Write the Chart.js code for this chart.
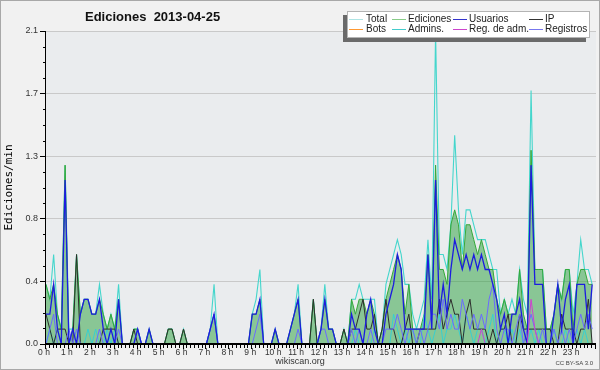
<!DOCTYPE html>
<html><head><meta charset="utf-8">
<script src="https://cdn.jsdelivr.net/npm/chart.js@4.4.0/dist/chart.umd.min.js"></script>
<style>
body{margin:0;background:#f1f1f1;}
#wrap{position:relative;width:600px;height:370px;overflow:hidden;font-family:"Liberation Sans",Arial,sans-serif;}
#c{position:absolute;left:0;top:0;}
.frame{position:absolute;left:0;top:0;width:600px;height:370px;box-sizing:border-box;border:1px solid #a8a8a8;pointer-events:none;}
#title{position:absolute;left:85px;top:10px;font-weight:bold;font-size:13px;line-height:13px;white-space:pre;color:#111;}
#legendBox{position:absolute;left:347px;top:11px;width:243px;height:27px;box-sizing:border-box;background:#fff;border:1px solid #b4b4b4;box-shadow:-4px 4px 0 #6a6a6a;}
.li{position:absolute;font-size:10px;line-height:10px;color:#222;white-space:nowrap;}
.ls{position:absolute;height:1px;width:14px;}
#site{position:absolute;left:0;width:600px;top:356px;text-align:center;font-size:9px;line-height:10px;color:#333;}
#lic{position:absolute;right:7px;top:360px;font-size:6px;line-height:6px;color:#444;}
</style></head>
<body>
<div id="wrap">
<canvas id="c" width="600" height="370"></canvas>
<div id="title">Ediciones  2013-04-25</div>
<div id="legendBox"></div>
<div id="legendItems"></div>
<div id="site">wikiscan.org</div>
<div id="lic">CC BY-SA 3.0</div>
<div class="frame"></div>
</div>
<script>
// ---- categories / tick labels ----
const timeSlots = [];
for (let h = 0; h <= 24; h++) { for (let m = 0; m < 60; m += 10) { if (h === 24 && m > 0) break; timeSlots.push(String(h).padStart(2,'0') + ':' + String(m).padStart(2,'0')); } }
const hourLabels = ['0 h','1 h','2 h','3 h','4 h','5 h','6 h','7 h','8 h','9 h','10 h','11 h','12 h','13 h','14 h','15 h','16 h','17 h','18 h','19 h','20 h','21 h','22 h','23 h'];
const yTickValues = [0, 0.42, 0.84, 1.26, 1.68, 2.1];
const yTickLabels = ['0.0','0.4','0.8','1.3','1.7','2.1'];

// ---- series (edits per minute, 10-minute bins) ----
const totalVals = [
0.4,0.3,0.6,0.2,0.1,1.2, 0.1,0.1,0.6,0.2,0.3,0.3, 0.2,0.2,0.4,0.2,0.1,0.2, 0.1,0.4,0,0,0,0.1,
0.1,0,0,0.1,0,0, 0,0,0.1,0.1,0,0, 0.1,0,0,0,0,0, 0,0.1,0.4,0,0,0,
0,0,0,0,0,0, 0.2,0.3,0.5,0,0,0, 0.1,0,0,0,0.1,0.2, 0.4,0,0,0,0.3,0,
0.1,0.4,0.1,0.1,0,0, 0.1,0,0.3,0.3,0.4,0.3, 0.3,0.3,0.3,0,0.1,0.4, 0.5,0.6,0.7,0.6,0.4,0.4,
0.2,0.1,0.2,0.3,0.7,0.3, 2.1,0.6,0.6,0.5,0.8,1.4, 0.9,0.6,0.9,0.9,0.8,0.7, 0.7,0.7,0.6,0.5,0.5,0.2,
0.3,0.2,0.3,0.2,0.5,0.3, 0.2,1.7,0.5,0.5,0.5,0.1, 0.1,0.2,0.4,0.3,0.5,0.5, 0.2,0.4,0.7,0.5,0.5,0.4];
const edicionesVals = [
0.4,0.3,0.4,0.2,0.1,1.2, 0,0.1,0.6,0.2,0.3,0.3, 0.2,0.2,0.3,0.2,0.1,0.2, 0.1,0.3,0,0,0,0.1,
0.1,0,0,0.1,0,0, 0,0,0.1,0.1,0,0, 0.1,0,0,0,0,0, 0,0.1,0.2,0,0,0,
0,0,0,0,0,0, 0.2,0.2,0.3,0,0,0, 0.1,0,0,0,0.1,0.2, 0.3,0,0,0,0.3,0,
0.1,0.3,0.1,0.1,0,0, 0.1,0,0.3,0.2,0.3,0.3, 0.2,0.3,0.2,0,0.1,0.3, 0.4,0.5,0.6,0.5,0.2,0.4,
0.1,0.1,0.1,0.2,0.6,0.2, 1.2,0.5,0.5,0.4,0.8,0.9, 0.8,0.5,0.8,0.8,0.7,0.6, 0.7,0.6,0.5,0.5,0.3,0.2,
0.3,0.2,0.2,0.2,0.5,0.2, 0.1,1.3,0.5,0.5,0.5,0.1, 0.1,0.2,0.4,0.3,0.5,0.5, 0.1,0.4,0.5,0.5,0.4,0.4];
const usuariosVals = [
0.2,0.2,0.4,0.1,0,1.1, 0,0.1,0,0.2,0.3,0.3, 0.2,0.2,0.3,0.1,0,0.1, 0,0.3,0,0,0,0,
0.1,0,0,0.1,0,0, 0,0,0,0,0,0, 0,0,0,0,0,0, 0,0.1,0.2,0,0,0,
0,0,0,0,0,0, 0.2,0.2,0.3,0,0,0, 0.1,0,0,0,0.1,0.2, 0.3,0,0,0,0,0,
0.1,0.3,0.1,0.1,0,0, 0,0,0.2,0.1,0.1,0, 0.2,0.3,0.1,0,0,0.2, 0.3,0.4,0.6,0.5,0.1,0.1,
0.1,0.1,0.1,0.1,0.6,0.1, 1.1,0.2,0.4,0.2,0.5,0.7, 0.6,0.5,0.6,0.5,0.6,0.5, 0.6,0.5,0.5,0.4,0.3,0.1,
0.2,0,0.2,0.2,0.3,0.1, 0,1.2,0.4,0.4,0.4,0, 0,0.2,0.4,0.1,0.3,0.4, 0,0.4,0.4,0.4,0.1,0.4];
const ipVals = [
0.2,0.1,0,0.1,0.1,0.1, 0,0,0.6,0,0,0, 0,0,0,0.1,0.1,0.1, 0.1,0,0,0,0,0.1,
0,0,0,0,0,0, 0,0,0.1,0.1,0,0, 0.1,0,0,0,0,0, 0,0,0,0,0,0,
0,0,0,0,0,0, 0,0,0,0,0,0, 0,0,0,0,0,0, 0,0,0,0,0.3,0,
0,0,0,0,0,0, 0.1,0,0.1,0.1,0.2,0.3, 0.1,0.1,0.2,0,0.1,0.3, 0.1,0.1,0,0,0.1,0.2,
0,0,0.1,0.1,0.1,0.1, 0.1,0.3,0.1,0.2,0.3,0.2, 0.2,0,0.2,0.3,0.1,0.1, 0.1,0.1,0,0.1,0,0.1,
0.1,0.2,0,0,0.2,0.1, 0.1,0.1,0.1,0.1,0.1,0.1, 0.1,0,0,0.2,0.1,0.1, 0.1,0,0.1,0.1,0.3,0];
const registrosVals = [
0,0.1,0.2,0,0,0, 0.1,0,0.1,0,0,0, 0,0,0.1,0,0,0, 0,0.1,0,0,0,0,
0.1,0,0,0,0,0, 0,0,0,0,0,0, 0,0,0,0,0,0, 0,0.1,0.2,0,0,0,
0,0,0,0,0,0, 0,0.1,0.2,0,0,0, 0,0,0,0,0,0, 0.1,0,0,0,0,0,
0.1,0.1,0,0,0,0, 0,0,0.1,0,0.1,0, 0,0.1,0,0,0,0.1, 0.1,0.1,0.2,0.1,0,0.1,
0.1,0,0.1,0,0.1,0.2, 0.2,0.1,0.3,0.1,0.2,0.1, 0.1,0.3,0.2,0.1,0.2,0.1, 0.2,0.1,0.3,0.4,0.1,0,
0.1,0.1,0,0.1,0.2,0, 0.1,0.2,0.1,0,0.1,0, 0,0.1,0,0.1,0,0.1, 0,0.1,0.2,0.1,0.2,0.1];
const adminsVals = [
0,0.1,0,0.1,0,0, 0,0,0,0,0,0.1, 0,0.1,0,0,0.1,0, 0.1,0,0,0,0,0,
0,0,0,0,0,0, 0,0,0,0,0,0, 0,0,0,0,0,0, 0,0,0,0,0,0,
0,0,0,0,0,0, 0,0,0,0,0,0, 0,0,0,0,0,0, 0,0,0,0,0,0,
0,0,0,0,0,0, 0,0,0,0.1,0,0, 0,0,0.1,0,0,0, 0,0.2,0.1,0,0.1,0,
0.1,0,0,0.2,0.1,0, 0.1,0.2,0,0.1,0.1,0.2, 0.1,0,0.2,0.1,0,0.1, 0.1,0,0.1,0.2,0,0.1,
0.1,0,0.1,0,0.1,0, 0,0.1,0,0.1,0,0, 0,0.1,0,0,0.1,0, 0,0.1,0,0.1,0,0];
const regAdmVals = [
0,0,0,0,0,0, 0,0,0,0,0,0, 0,0,0,0,0,0, 0,0,0,0,0,0,
0,0,0,0,0,0, 0,0,0,0,0,0, 0,0,0,0,0,0, 0,0,0,0,0,0,
0,0,0,0,0,0, 0,0,0,0,0,0, 0,0,0,0,0,0, 0,0,0,0,0,0,
0,0,0,0,0,0, 0,0,0,0,0,0, 0,0,0,0,0,0, 0,0,0,0,0,0,
0,0,0,0,0,0, 0,0,0,0,0,0, 0,0,0,0,0,0, 0.1,0,0,0,0,0,
0,0,0,0,0,0, 0,0.3,0.1,0,0,0, 0,0,0,0,0,0, 0,0,0,0,0,0];
const botsVals = [
0,0,0,0,0,0, 0,0,0,0,0,0, 0,0,0,0,0,0, 0,0,0,0,0,0,
0,0,0,0,0,0, 0,0,0,0,0,0, 0,0,0,0,0,0, 0,0,0,0,0,0,
0,0,0,0,0,0, 0,0,0,0,0,0, 0,0,0,0,0,0, 0,0,0,0,0,0,
0,0,0,0,0,0, 0,0,0,0,0,0, 0,0,0,0,0,0, 0,0,0,0,0,0,
0,0,0,0,0,0, 0,0,0,0,0,0, 0,0,0,0,0,0, 0,0,0,0,0,0,
0,0,0,0,0,0, 0,0,0,0,0,0, 0,0,0,0,0,0, 0,0,0,0,0,0];

const seriesNames = ['Total','Ediciones','Usuarios','IP','Bots','Admins.','Reg. de adm.','Registros'];

function ds(label, data, color, width, order, extra) {
  return Object.assign({label, data, borderColor: color, borderWidth: width, order,
    pointRadius: 0, pointHoverRadius: 0, tension: 0, fill: false}, extra || {});
}
const datasets = [
  ds(seriesNames[0], totalVals, '#44d6cc', 1.1, 10),
  ds(seriesNames[1], edicionesVals, '#35a838', 1, 9, {fill: 'origin', backgroundColor: 'rgba(40,160,60,0.5)'}),
  ds(seriesNames[4], botsVals, '#ff9933', 1, 8),
  ds(seriesNames[5], adminsVals, '#38cfd0', 1, 7),
  ds(seriesNames[3], ipVals, '#2d2d2d', 1, 6),
  ds(seriesNames[7], registrosVals, '#6a6aff', 1, 5),
  ds(seriesNames[2], usuariosVals, '#1c1ce0', 1.3, 4),
  ds(seriesNames[6], regAdmVals, '#d040d0', 1, 3)
];

// legend (HTML)
const legendSwatch = {'Total':'#aee4e4','Ediciones':'#88cc88','Usuarios':'#3333cc','IP':'#333333','Bots':'#ff9933','Admins.':'#44cccc','Reg. de adm.':'#cc44cc','Registros':'#7777ee'};
const legendCols = [[349,366],[392,408],[453,469],[529,545]];
const legendRows = [19, 29];
const legendOrder = [['Total','Ediciones','Usuarios','IP'],['Bots','Admins.','Reg. de adm.','Registros']];
const li = document.getElementById('legendItems');
legendOrder.forEach((row, r) => row.forEach((name, c) => {
  const s = document.createElement('div'); s.className = 'ls';
  s.style.left = legendCols[c][0] + 'px'; s.style.top = legendRows[r] + 'px'; s.style.background = legendSwatch[name];
  const t = document.createElement('div'); t.className = 'li'; t.textContent = name;
  t.style.left = legendCols[c][1] + 'px'; t.style.top = (legendRows[r] - 5) + 'px';
  li.appendChild(s); li.appendChild(t);
}));

const decor = {
  id: 'decor',
  beforeDraw(chart) {
    const {ctx, chartArea: a} = chart;
    ctx.save(); ctx.fillStyle = '#eaecee';
    ctx.fillRect(a.left, a.top, a.right - a.left, a.bottom - a.top);
    ctx.restore();
  },
  afterDatasetsDraw(chart) {
    const {ctx, chartArea: a, scales: {x, y}} = chart;
    ctx.save();
    ctx.strokeStyle = '#000';
    ctx.lineWidth = 2;
    ctx.beginPath();
    ctx.moveTo(a.left - 1, a.bottom); ctx.lineTo(a.right, a.bottom);
    ctx.stroke();
    ctx.lineWidth = 1;
    ctx.beginPath();
    ctx.moveTo(a.left - 0.5, a.top); ctx.lineTo(a.left - 0.5, a.bottom);
    for (let i = 0; i < timeSlots.length; i++) {
      const px = Math.round(x.getPixelForValue(i)) - 0.5;
      const len = (i % 6 === 0) ? 5 : 4;
      ctx.moveTo(px, a.bottom); ctx.lineTo(px, a.bottom + len);
    }
    for (let k = 1; k < 20; k++) {
      if (k % 4 === 0) continue;
      const py = Math.round(y.getPixelForValue(k * 0.105)) + 0.5;
      ctx.moveTo(a.left - 3, py); ctx.lineTo(a.left, py);
    }
    ctx.stroke();
    ctx.restore();
  }
};

new Chart(document.getElementById('c'), {
  type: 'line',
  data: {labels: timeSlots, datasets},
  options: {
    responsive: false, animation: false, devicePixelRatio: 1,
    layout: {padding: {top: 31, right: 2, left: 0, bottom: 0}},
    plugins: {legend: {display: false}, title: {display: false}, tooltip: {enabled: false}},
    elements: {line: {borderJoinStyle: 'miter'}},
    scales: {
      x: {
        type: 'category', offset: false,
        grid: {display: false, drawTicks: false}, border: {display: false},
        ticks: {autoSkip: false, maxRotation: 0, minRotation: 0, padding: 4, labelOffset: -2,
          color: '#333', font: {family: 'Liberation Sans', size: 8.5},
          callback: (v, i) => (i % 6 === 0 && i / 6 < hourLabels.length) ? hourLabels[i / 6] : ''},
        afterFit: (s) => { s.height = 26; }
      },
      y: {
        min: 0, max: 2.1,
        afterBuildTicks: (s) => { s.ticks = yTickValues.map(v => ({value: v})); },
        grid: {color: '#c9c9c9', tickColor: '#000', tickLength: 6, lineWidth: 1},
        border: {display: false},
        ticks: {padding: 2, color: '#333', font: {family: 'Liberation Sans', size: 9},
          callback: (v, i) => yTickLabels[i]},
        title: {display: true, text: 'Ediciones/min', color: '#000',
          font: {family: 'DejaVu Sans Mono', size: 11}, padding: {top: 3, bottom: 0}},
        afterFit: (s) => { s.width = 46; }
      }
    }
  },
  plugins: [decor]
});
</script>
</body></html>
